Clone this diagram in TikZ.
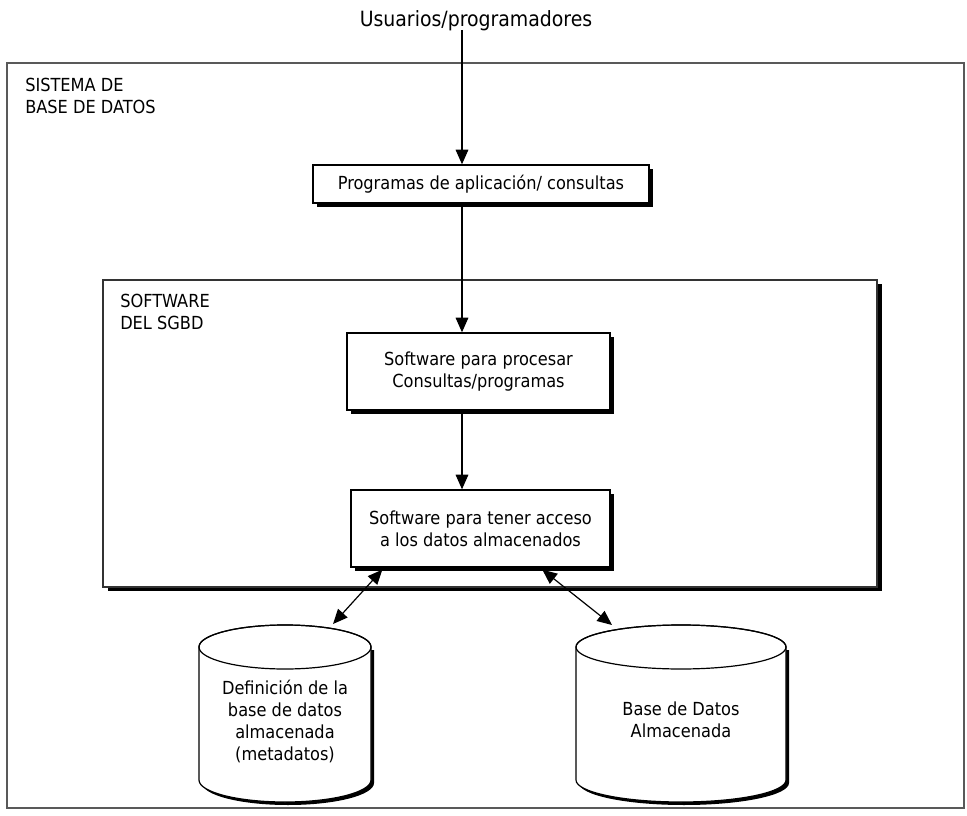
\documentclass[tikz,border=0pt]{standalone}
\usepackage{fontspec}
\setmainfont{DejaVu Sans Condensed}
\usetikzlibrary{arrows.meta,shadows,calc}

% cylinder of the data stores: #1 = centre x, #2 = horizontal radius
\newcommand\dbdrum[2]{%
  \fill[black] ({#1-#2+3},650) -- ({#1-#2+3},783)
      arc[start angle=180,end angle=0,x radius=#2,y radius=22]
      -- ({#1+#2+3},650) -- cycle;
  \filldraw[fill=white,line width=0.9pt] ({#1-#2},647) -- ({#1-#2},780)
      arc[start angle=180,end angle=0,x radius=#2,y radius=22]
      -- ({#1+#2},647)
      arc[start angle=0,end angle=-180,x radius=#2,y radius=22] -- cycle;
  \draw[line width=0.9pt] (#1,647) ellipse[x radius=#2,y radius=22];
}

\begin{document}
\begin{tikzpicture}[x=0.75pt,y=-0.75pt,
  every node/.style={font=\fontsize{13.5pt}{16.5pt}\selectfont},
  lbl/.style={anchor=north west,inner sep=0pt,align=left},
  procbox/.style={draw,line width=1pt,fill=white,inner sep=0pt,align=center,
    drop shadow={shadow xshift=3pt,shadow yshift=-3pt,fill=black,opacity=1}},
  outerframe/.style={draw=black!65,line width=0.9pt,inner sep=0pt},
  innerframe/.style={draw=black!80,line width=0.9pt,fill=white,inner sep=0pt,
    drop shadow={shadow xshift=3.5pt,shadow yshift=-3pt,fill=black,opacity=1}},
  arr/.style={line width=0.9pt,-{Triangle[length=11pt,width=9.5pt]}},
  darr/.style={line width=0.9pt,{Triangle[length=11pt,width=9.5pt]}-{Triangle[length=11pt,width=9.5pt]}},
  drumtext/.style={align=center,inner sep=0pt}
]
\useasboundingbox (0,0) rectangle (967,816);

% frames
\node[outerframe,minimum width=717.75pt,minimum height=558.75pt] (sys) at (485.5,435.5) {};
\node[lbl] (sysl) at (25,78) {SISTEMA DE\\BASE DE DATOS};
\node[innerframe,minimum width=580.5pt,minimum height=230.25pt] (sgbd) at (490,433.5) {};
\node[lbl] (sgbdl) at (120,294) {SOFTWARE\\DEL SGBD};

% users
\node[font=\fontsize{15.75pt}{18pt}\selectfont] (users) at (476,21) {Usuarios/programadores};
\coordinate (u) at (462,30);

% processing boxes
\node[procbox,minimum width=252pt,minimum height=28.5pt] (b1) at (481,184)
  {Programas de aplicación/ consultas};
\node[procbox,minimum width=197.25pt,minimum height=57.75pt] (b2) at (478.5,371.5)
  {Software para procesar\\Consultas/programas};
\node[procbox,minimum width=194.25pt,minimum height=57.75pt] (b3) at (480.5,528.5)
  {Software para tener acceso\\a los datos almacenados};

% data stores
\dbdrum{285}{86}
\dbdrum{681}{105}
\node[drumtext] (d1) at (285,721)
  {Definición de la\\base de datos\\almacenada\\(metadatos)};
\node[drumtext] (d2) at (681,720) {Base de Datos\\Almacenada};
\coordinate (d1top) at ($(d1)+(48,-97)$);
\coordinate (d2top) at ($(d2)+(-69,-95)$);
\coordinate (p1) at ($(b3.south west)+(32,2)$);
\coordinate (p2) at ($(b3.south west)+(192,2)$);

% connectors
\draw[arr] (u) -- (u |- b1.north);
\draw[arr] (u |- b1.south) -- (u |- b2.north);
\draw[arr] (u |- b2.south) -- (u |- b3.north);
\draw[darr] (p1) -- (d1top);
\draw[darr] (p2) -- (d2top);
\end{tikzpicture}
\end{document}
